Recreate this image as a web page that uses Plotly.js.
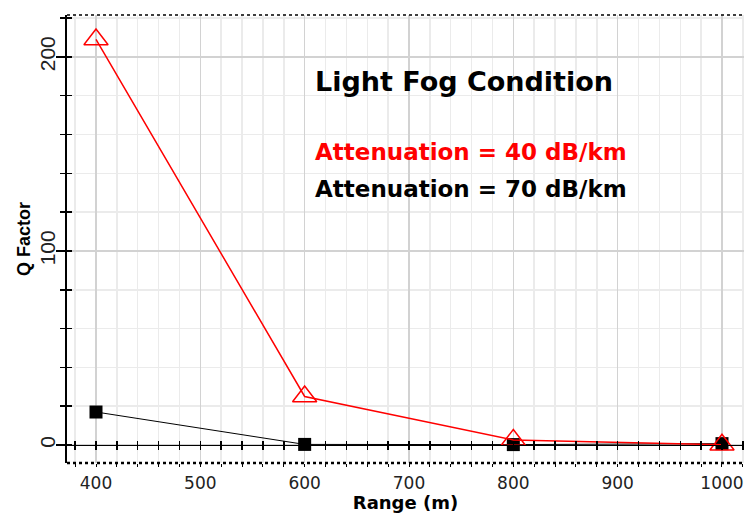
<!DOCTYPE html>
<html>
<head>
<meta charset="utf-8">
<script src="https://cdn.plot.ly/plotly-3.0.1.min.js"></script>
<style>
  html, body { margin: 0; padding: 0; background: #ffffff; }
  #chart { width: 744px; height: 513px; }
</style>
</head>
<body>
<div id="chart"></div>
<script>
// ---- data ----
const rangeM = [400, 600, 800, 1000];
const qAtt40 = [209, 25, 2.6, 0.1];
const qAtt70 = [17, 0.3, 0.2, 0.7];
const xTickVals = [400, 500, 600, 700, 800, 900, 1000];
const yTickVals = [0, 100, 200];
const chartTitle = 'Light Fog Condition';
const label40 = 'Attenuation = 40 dB/km';
const label70 = 'Attenuation = 70 dB/km';

const xRange = [372.2, 1021.1];
const yRange = [-9.28, 221.6];
const zeroPos = (0 - yRange[0]) / (yRange[1] - yRange[0]);

const traces = [
  {
    x: rangeM, y: qAtt70, type: 'scatter', mode: 'lines+markers', name: label70,
    line: { color: '#000000', width: 1 },
    marker: { symbol: 'square', size: 13, color: '#000000' },
    cliponaxis: false
  },
  {
    x: rangeM, y: qAtt40, type: 'scatter', mode: 'lines+markers', name: label40,
    line: { color: '#ff0000', width: 1.5 },
    marker: { symbol: 'triangle-up-open', size: 21, color: '#ff0000', line: { width: 1.5, color: '#ff0000' } },
    cliponaxis: false
  }
];

const tickFont = { family: 'DejaVu Sans, Verdana, sans-serif', size: 17, color: '#222222' };

const layout = {
  width: 744, height: 513,
  margin: { l: 67, r: 0, t: 15, b: 50, pad: 0 },
  paper_bgcolor: '#ffffff', plot_bgcolor: '#ffffff',
  showlegend: false,
  xaxis: {
    range: xRange, tickvals: xTickVals, ticktext: xTickVals.map(String),
    showgrid: true, gridcolor: '#d2d2d2', gridwidth: 1.5,
    minor: { dtick: 20, tick0: 400, showgrid: true, gridcolor: '#ebebeb', gridwidth: 1.5, ticks: 'outside', ticklen: 3, tickcolor: '#000' },
    ticks: 'outside', ticklen: 3, tickcolor: '#000',
    ticklabelstandoff: 2,
    showline: false, zeroline: false,
    tickfont: tickFont,
    title: { text: 'Range (m)', font: { family: 'DejaVu Sans, Verdana, sans-serif', size: 18, color: '#000', weight: 'bold' }, standoff: 2 }
  },
  xaxis2: {
    overlaying: 'x', anchor: 'free', position: zeroPos, side: 'bottom',
    range: xRange, dtick: 20, tick0: 400,
    ticks: 'outside', ticklen: 4, tickcolor: '#000', tickwidth: 1.5,
    showticklabels: false, showgrid: false, zeroline: false,
    showline: true, linecolor: '#000', linewidth: 1.5
  },
  xaxis3: {
    overlaying: 'x', anchor: 'free', position: zeroPos, side: 'bottom',
    range: xRange, dtick: 20, tick0: 400,
    ticks: 'inside', ticklen: 4, tickcolor: '#000', tickwidth: 1.5,
    showticklabels: false, showgrid: false, zeroline: false, showline: false
  },
  yaxis: {
    range: yRange, tickvals: yTickVals, ticktext: yTickVals.map(String),
    tickangle: -90,
    showgrid: true, gridcolor: '#d2d2d2', gridwidth: 1.5,
    minor: { dtick: 20, tick0: 0, showgrid: true, gridcolor: '#ebebeb', gridwidth: 1.5, ticks: 'outside', ticklen: 5, tickcolor: '#000', tickwidth: 1.5 },
    ticks: 'outside', ticklen: 9, tickcolor: '#000', tickwidth: 1.5,
    ticklabelstandoff: -7,
    showline: true, linecolor: '#000', linewidth: 2,
    zeroline: false,
    tickfont: { family: 'Liberation Sans Narrow, Liberation Sans, Arial, sans-serif', size: 21, color: '#222222' },
    title: { text: 'Q Factor', font: { family: 'Liberation Sans, Arial, sans-serif', size: 18, color: '#000', weight: 'bold' }, standoff: 0 }
  },
  yaxis2: {
    overlaying: 'y', anchor: 'x', side: 'left',
    range: yRange, dtick: 20, tick0: 0,
    ticks: 'inside', ticklen: 5, tickcolor: '#000', tickwidth: 1.5,
    showticklabels: false, showgrid: false, zeroline: false, showline: false
  },
  shapes: [
    { type: 'line', xref: 'paper', yref: 'paper', x0: 0, x1: 1, y0: 1, y1: 1,
      line: { color: '#000', width: 1.5, dash: 'dot' } },
    { type: 'line', xref: 'paper', yref: 'paper', x0: 0, x1: 1, y0: 0, y1: 0,
      line: { color: '#000', width: 2.5, dash: 'dot' } }
  ],
  annotations: [
    { text: chartTitle, xref: 'paper', yref: 'paper', x: 0.3634, y: 0.852, xanchor: 'left', yanchor: 'middle',
      showarrow: false, font: { family: 'DejaVu Sans, Verdana, sans-serif', size: 27, color: '#000', weight: 'bold' } },
    { text: label40, xref: 'paper', yref: 'paper', x: 0.3634, y: 0.695, xanchor: 'left', yanchor: 'middle',
      showarrow: false, font: { family: 'DejaVu Sans, Verdana, sans-serif', size: 23, color: '#ff0000', weight: 'bold' } },
    { text: label70, xref: 'paper', yref: 'paper', x: 0.3634, y: 0.612, xanchor: 'left', yanchor: 'middle',
      showarrow: false, font: { family: 'DejaVu Sans, Verdana, sans-serif', size: 23, color: '#000', weight: 'bold' } }
  ]
};

// invisible helpers so the overlay axes get drawn
traces.push({ x: [xRange[0]], y: [0], xaxis: 'x2', yaxis: 'y', mode: 'markers', marker: { opacity: 0 }, hoverinfo: 'skip' });
traces.push({ x: [xRange[0]], y: [0], xaxis: 'x3', yaxis: 'y', mode: 'markers', marker: { opacity: 0 }, hoverinfo: 'skip' });
traces.push({ x: [xRange[0]], y: [0], xaxis: 'x', yaxis: 'y2', mode: 'markers', marker: { opacity: 0 }, hoverinfo: 'skip' });

Plotly.newPlot('chart', traces, layout, { staticPlot: true, displayModeBar: false });
</script>
</body>
</html>
